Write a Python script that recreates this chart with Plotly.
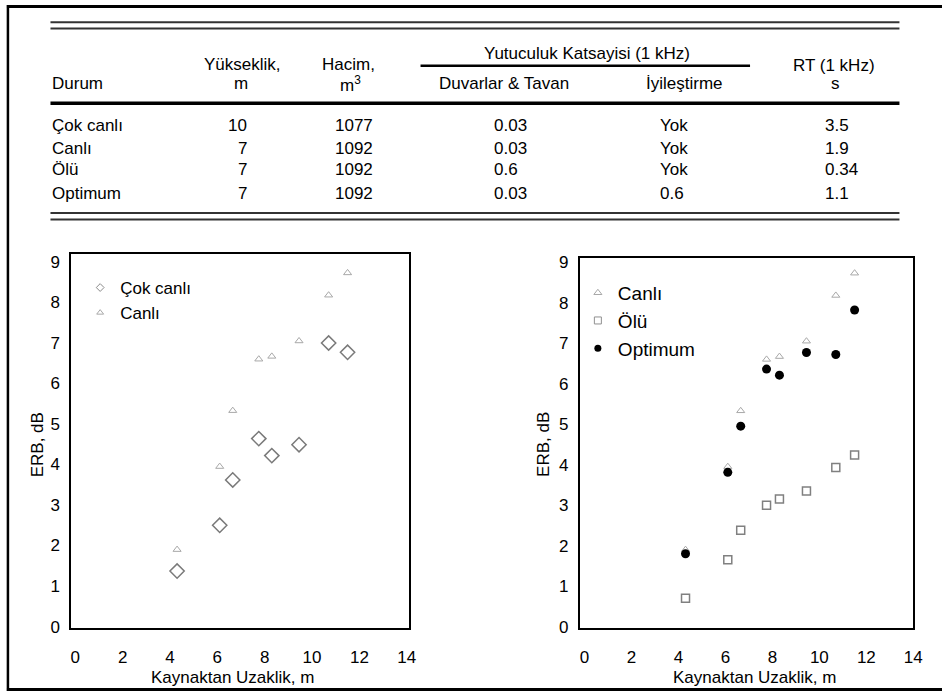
import plotly.graph_objects as go

# ---- table data ----
durum = ["Çok canlı", "Canlı", "Ölü", "Optimum"]
yukseklik = ["10", "7", "7", "7"]
hacim = ["1077", "1092", "1092", "1092"]
duvar_tavan = ["0.03", "0.03", "0.6", "0.03"]
iyilestirme = ["Yok", "Yok", "Yok", "0.6"]
rt = ["3.5", "1.9", "0.34", "1.1"]

# ---- scatter data: ERB (dB) vs distance from source (m) ----
uzaklik = [4.3, 6.1, 6.65, 7.75, 8.3, 9.45, 10.7, 11.5]
erb_cok_canli = [1.37, 2.5, 3.62, 4.64, 4.22, 4.49, 7.0, 6.77]
erb_canli = [1.9, 3.95, 5.33, 6.6, 6.67, 7.05, 8.18, 8.73]
erb_olu = [0.7, 1.65, 2.38, 3.0, 3.15, 3.35, 3.93, 4.24]
erb_optimum = [1.8, 3.81, 4.95, 6.36, 6.21, 6.77, 6.72, 7.82]

x_ticks = [0, 2, 4, 6, 8, 10, 12, 14]
y_ticks = [0, 1, 2, 3, 4, 5, 6, 7, 8, 9]

W, H = 951, 699
FONT = "Liberation Sans, Arial, sans-serif"


def px(x):
    return x / W


def py(y):
    return 1 - y / H


fig = go.Figure()

# left panel
fig.add_trace(go.Scatter(
    x=uzaklik, y=erb_cok_canli, mode="markers", name="Çok canlı",
    marker=dict(symbol="diamond-open", size=11, color="#7a7a7a", line=dict(width=1.5)),
    xaxis="x", yaxis="y", showlegend=False))
fig.add_trace(go.Scatter(
    x=uzaklik, y=erb_canli, mode="markers", name="Canlı",
    marker=dict(symbol="triangle-up-open", size=7, color="#a8a8a8", line=dict(width=1)),
    xaxis="x", yaxis="y", showlegend=False))
# legend entries for left panel
fig.add_trace(go.Scatter(
    x=[None], y=[None], mode="markers", name="Çok canlı",
    marker=dict(symbol="diamond-open", size=6, color="#8a8a8a", line=dict(width=1)),
    xaxis="x", yaxis="y", legend="legend"))
fig.add_trace(go.Scatter(
    x=[None], y=[None], mode="markers", name="Canlı",
    marker=dict(symbol="triangle-up-open", size=6, color="#a8a8a8", line=dict(width=1)),
    xaxis="x", yaxis="y", legend="legend"))

# right panel
fig.add_trace(go.Scatter(
    x=uzaklik, y=erb_canli, mode="markers", name="Canlı",
    marker=dict(symbol="triangle-up-open", size=7, color="#a8a8a8", line=dict(width=1)),
    xaxis="x2", yaxis="y2", showlegend=False))
fig.add_trace(go.Scatter(
    x=uzaklik, y=erb_olu, mode="markers", name="Ölü",
    marker=dict(symbol="square-open", size=8, color="#808080", line=dict(width=1.5)),
    xaxis="x2", yaxis="y2", showlegend=False))
fig.add_trace(go.Scatter(
    x=uzaklik, y=erb_optimum, mode="markers", name="Optimum",
    marker=dict(symbol="circle", size=9, color="#000000"),
    xaxis="x2", yaxis="y2", showlegend=False))
# legend entries for right panel
fig.add_trace(go.Scatter(
    x=[None], y=[None], mode="markers", name="Canlı",
    marker=dict(symbol="triangle-up-open", size=7, color="#a8a8a8", line=dict(width=1)),
    xaxis="x2", yaxis="y2", legend="legend2"))
fig.add_trace(go.Scatter(
    x=[None], y=[None], mode="markers", name="Ölü",
    marker=dict(symbol="square-open", size=7, color="#909090", line=dict(width=1)),
    xaxis="x2", yaxis="y2", legend="legend2"))
fig.add_trace(go.Scatter(
    x=[None], y=[None], mode="markers", name="Optimum",
    marker=dict(symbol="circle", size=7, color="#000000"),
    xaxis="x2", yaxis="y2", legend="legend2"))

axis_common = dict(
    showgrid=False, zeroline=False, showline=True, mirror=True,
    linecolor="#000000", linewidth=2,
    ticks="outside", tickcolor="rgba(0,0,0,0)",
    tickfont=dict(family=FONT, size=17, color="#000000"),
)

fig.update_layout(
    width=W, height=H,
    margin=dict(l=0, r=0, t=0, b=0),
    paper_bgcolor="white", plot_bgcolor="white",
    font=dict(family=FONT, size=17, color="#000000"),
    xaxis=dict(domain=[px(71), px(412)], range=[-0.17, 14.08],
               tickvals=x_ticks, ticklen=12, anchor="y", **axis_common),
    yaxis=dict(domain=[py(635), py(254)], range=[-0.04, 9.19],
               tickvals=y_ticks, ticklen=6, anchor="x", **axis_common),
    xaxis2=dict(domain=[px(585), px(922)], range=[-0.2, 14.0],
                tickvals=x_ticks, ticklen=12, anchor="y2", **axis_common),
    yaxis2=dict(domain=[py(635), py(258)], range=[-0.04, 9.1],
                tickvals=y_ticks, ticklen=6, anchor="x2", **axis_common),
    legend=dict(x=px(80), y=py(270), xanchor="left", yanchor="top",
                bgcolor="rgba(0,0,0,0)", borderwidth=0,
                font=dict(family=FONT, size=17, color="#000000"),
                tracegroupgap=0, itemwidth=30),
    legend2=dict(x=px(583), y=py(274), xanchor="left", yanchor="top",
                 bgcolor="rgba(0,0,0,0)", borderwidth=0,
                 font=dict(family=FONT, size=19, color="#000000"),
                 tracegroupgap=0, itemwidth=30),
)

shapes = []


def hline(y, x0, x1, width, color="#000000"):
    shapes.append(dict(type="line", xref="paper", yref="paper",
                       x0=px(x0), x1=px(x1), y0=py(y), y1=py(y),
                       line=dict(color=color, width=width)))


# outer frame
shapes.append(dict(type="line", xref="paper", yref="paper",
                   x0=px(7), x1=px(7), y0=py(0), y1=py(699),
                   line=dict(color="#000000", width=2.5)))
hline(1.5, 6, 951, 3)
hline(697.5, 6, 951, 3)

# table rules
hline(17.5, 50, 908, 2, "#333333")
hline(24, 50, 908, 2, "#333333")
hline(62, 424, 757, 2.5)
hline(100, 50, 908, 3.5)
hline(212, 50, 908, 2, "#333333")
hline(218.5, 50, 908, 2, "#333333")

annotations = []


def text(s, x, y, anchor="center", size=17, angle=0):
    annotations.append(dict(text=s, xref="paper", yref="paper",
                            x=px(x), y=py(y), xanchor=anchor, yanchor="middle",
                            showarrow=False, textangle=angle,
                            font=dict(family=FONT, size=size, color="#000000")))


# table header
text("Durum", 50, 80, "left")
text("Yükseklik,", 244, 61)
text("m", 243, 80)
text("Hacim,", 351, 61)
text("m<sup>3</sup>", 353, 81)
text("Yutuculuk Katsayisi (1 kHz)", 592, 49)
text("Duvarlar & Tavan", 508, 80)
text("İyileştirme", 691, 80)
text("RT (1 kHz)", 842, 62)
text("s", 843, 80)

# table body
row_y = [123, 146, 168, 192]
for i, yy in enumerate(row_y):
    text(durum[i], 50, yy, "left")
    text(yukseklik[i], 251, yy, "right")
    text(hacim[i], 357, yy)
    text(duvar_tavan[i], 496, yy, "left")
    text(iyilestirme[i], 664, yy, "left")
    text(rt[i], 831, yy, "left")

# axis titles
text("Kaynaktan Uzaklik, m", 234, 685)
text("Kaynaktan Uzaklik, m", 762, 685)
text("ERB, dB", 37, 448, angle=-90)
text("ERB, dB", 548, 448, angle=-90)

fig.update_layout(shapes=shapes, annotations=annotations)

fig.write_html("out.html")
